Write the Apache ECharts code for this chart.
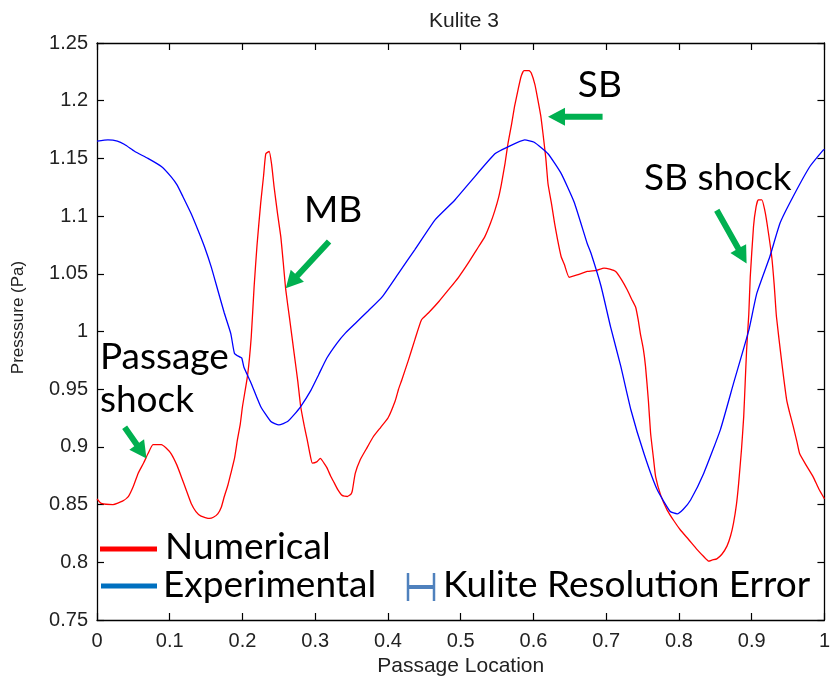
<!DOCTYPE html>
<html><head><meta charset="utf-8">
<script src="https://cdn.jsdelivr.net/npm/echarts@6/dist/echarts.min.js"></script>
<style>html,body{margin:0;padding:0;background:#fff}#c{width:833px;height:683px}</style>
</head><body><div id="c"></div>
<script>
// ---- data ----
const numX = [0.000,0.006,0.022,0.035,0.043,0.050,0.0565,0.064,0.070,0.077,0.0885,0.095,0.102,0.110,0.116,0.123,0.1295,0.136,0.143,0.1546,0.160,0.166,0.171,0.175,0.180,0.184,0.189,0.193,0.197,0.200,0.207,0.212,0.216,0.220,0.225,0.229,0.232,0.2367,0.240,0.2435,0.248,0.2527,0.256,0.2595,0.265,0.271,0.276,0.280,0.285,0.289,0.293,0.296,0.302,0.307,0.312,0.316,0.321,0.326,0.331,0.337,0.344,0.349,0.351,0.355,0.362,0.370,0.380,0.390,0.400,0.410,0.4145,0.419,0.428,0.437,0.446,0.4555,0.470,0.483,0.497,0.510,0.522,0.533,0.541,0.547,0.552,0.556,0.561,0.565,0.570,0.574,0.579,0.583,0.587,0.594,0.597,0.602,0.606,0.610,0.613,0.617,0.620,0.625,0.629,0.633,0.638,0.6425,0.649,0.660,0.674,0.687,0.697,0.705,0.713,0.721,0.729,0.735,0.7405,0.744,0.747,0.751,0.754,0.758,0.761,0.765,0.768,0.775,0.784,0.793,0.802,0.813,0.825,0.834,0.841,0.846,0.852,0.859,0.866,0.871,0.875,0.879,0.882,0.886,0.889,0.891,0.893,0.896,0.898,0.9025,0.906,0.909,0.914,0.918,0.921,0.9275,0.931,0.934,0.941,0.948,0.952,0.957,0.962,0.966,0.975,0.9845,0.992,1.000];
const numY = [0.855,0.851,0.850,0.853,0.857,0.866,0.877,0.886,0.894,0.902,0.902,0.899,0.894,0.884,0.874,0.862,0.851,0.844,0.840,0.838,0.839,0.842,0.848,0.857,0.867,0.877,0.890,0.906,0.920,0.935,0.962,0.995,1.039,1.075,1.111,1.135,1.154,1.156,1.145,1.125,1.103,1.082,1.060,1.036,1.010,0.981,0.957,0.935,0.918,0.906,0.893,0.886,0.887,0.890,0.886,0.882,0.875,0.869,0.863,0.858,0.857,0.859,0.862,0.877,0.889,0.898,0.909,0.917,0.925,0.940,0.950,0.958,0.975,0.993,1.010,1.016,1.026,1.036,1.047,1.059,1.071,1.082,1.094,1.105,1.116,1.128,1.146,1.163,1.180,1.195,1.210,1.221,1.226,1.226,1.224,1.214,1.201,1.187,1.172,1.150,1.128,1.110,1.094,1.080,1.065,1.058,1.047,1.049,1.052,1.053,1.055,1.054,1.052,1.045,1.036,1.028,1.021,1.010,0.998,0.985,0.970,0.940,0.912,0.890,0.874,0.858,0.845,0.836,0.828,0.820,0.811,0.805,0.801,0.802,0.803,0.807,0.814,0.823,0.834,0.850,0.868,0.898,0.926,0.955,0.984,1.015,1.047,1.091,1.108,1.114,1.114,1.105,1.094,1.065,1.040,1.013,0.975,0.941,0.930,0.918,0.905,0.894,0.884,0.874,0.864,0.855];
const expX = [0.000,0.015,0.028,0.038,0.052,0.070,0.0885,0.102,0.110,0.118,0.1295,0.140,0.148,0.157,0.166,0.175,0.184,0.189,0.196,0.199,0.202,0.212,0.225,0.239,0.250,0.262,0.271,0.280,0.294,0.305,0.316,0.330,0.342,0.355,0.373,0.392,0.414,0.437,0.465,0.492,0.515,0.547,0.565,0.588,0.601,0.620,0.638,0.656,0.674,0.679,0.693,0.706,0.720,0.734,0.752,0.770,0.788,0.7975,0.806,0.816,0.834,0.857,0.875,0.896,0.907,0.925,0.939,0.957,0.980,0.998,1.000];
const expY = [1.165,1.166,1.165,1.162,1.156,1.150,1.143,1.134,1.127,1.117,1.102,1.086,1.073,1.056,1.036,1.016,0.998,0.981,0.978,0.977,0.969,0.955,0.935,0.922,0.919,0.922,0.928,0.935,0.949,0.963,0.977,0.990,0.999,1.007,1.018,1.030,1.050,1.071,1.097,1.114,1.131,1.154,1.160,1.166,1.164,1.154,1.137,1.112,1.076,1.068,1.039,1.004,0.970,0.932,0.894,0.863,0.844,0.842,0.846,0.854,0.877,0.915,0.955,1.001,1.033,1.065,1.094,1.117,1.143,1.157,1.158];
const seriesNames = ['Numerical','Experimental'];
const errorLabel = 'Kulite Resolution Error';
const titleText = 'Kulite 3';
const xName = 'Passage Location';
const yName = 'Presssure (Pa)';
const noteTexts = ['Passage','shock','MB','SB','SB shock'];

// ---- annotation placement (data coordinates) ----
const notePos = [[0.004,0.978],[0.004,0.941],[0.2845,1.105],[0.661,1.2136],[0.752,1.133]];
const arrowPos = [
  [[0.038,0.917],[0.068,0.890]],
  [[0.319,1.078],[0.2595,1.0375]],
  [[0.695,1.186],[0.620,1.186]],
  [[0.852,1.105],[0.893,1.059]]
];

const chart = echarts.init(document.getElementById('c'));
const lblFont = {fontFamily:'Liberation Sans', fontSize:20, color:'#222'};
const aLine = {show:true, onZero:false, lineStyle:{color:'#000', width:1.3}};
const aTick = {show:true, inside:true, length:7, lineStyle:{color:'#000', width:1.2}};
chart.setOption({
  animation:false,
  backgroundColor:'#fff',
  title:{text:titleText, left:424, top:6, textStyle:{fontFamily:'Liberation Sans', fontSize:21, fontWeight:'normal', color:'#222'}},
  grid:{left:97, right:5, top:43, bottom:63, containLabel:false},
  xAxis:[
    {type:'value', min:0, max:1, interval:0.1, position:'bottom', name:xName, nameLocation:'middle', nameGap:36,
     nameTextStyle:{fontFamily:'Liberation Sans', fontSize:21, color:'#222'},
     axisLine:aLine, axisTick:aTick, axisLabel:Object.assign({margin:11}, lblFont), splitLine:{show:false}},
    {type:'value', min:0, max:1, interval:0.1, position:'top', axisLine:aLine, axisTick:aTick, axisLabel:{show:false}, splitLine:{show:false}}
  ],
  yAxis:[
    {type:'value', min:0.75, max:1.25, interval:0.05, position:'left', name:yName, nameLocation:'middle', nameGap:70,
     nameTextStyle:{fontFamily:'Liberation Sans', fontSize:17, color:'#222', padding:[0,0,0,28]},
     axisLine:aLine, axisTick:aTick, axisLabel:Object.assign({margin:9}, lblFont), splitLine:{show:false}},
    {type:'value', min:0.75, max:1.25, interval:0.05, position:'right', axisLine:aLine, axisTick:aTick, axisLabel:{show:false}, splitLine:{show:false}}
  ],
  series:[
    {name:seriesNames[0], type:'line', data:numX.map((x,i)=>[x,numY[i]]), showSymbol:false, smooth:0.15,
     lineStyle:{color:'#ff0000', width:1.3}, itemStyle:{color:'#ff0000'}},
    {name:seriesNames[1], type:'line', data:expX.map((x,i)=>[x,expY[i]]), showSymbol:false, smooth:0.15,
     lineStyle:{color:'#0000ff', width:1.3}, itemStyle:{color:'#0000ff'}}
  ]
});

function arrowPoly(p0, p1, shaftW, headW, headL){
  const dx=p1[0]-p0[0], dy=p1[1]-p0[1], L=Math.hypot(dx,dy);
  const ux=dx/L, uy=dy/L, nx=-uy, ny=ux;
  const nk=[p1[0]-ux*headL, p1[1]-uy*headL];
  return [
    [p0[0]+nx*shaftW/2, p0[1]+ny*shaftW/2],
    [nk[0]+nx*shaftW/2, nk[1]+ny*shaftW/2],
    [nk[0]+nx*headW/2, nk[1]+ny*headW/2],
    p1,
    [nk[0]-nx*headW/2, nk[1]-ny*headW/2],
    [nk[0]-nx*shaftW/2, nk[1]-ny*shaftW/2],
    [p0[0]-nx*shaftW/2, p0[1]-ny*shaftW/2]
  ];
}
const px = p => chart.convertToPixel({xAxisIndex:0, yAxisIndex:0}, p);
const noteFont = '37px Lato';
const g = [];
noteTexts.forEach((t,i)=>{
  const p = px(notePos[i]);
  g.push({type:'text', z:100, style:{text:t, x:p[0], y:p[1], font:noteFont, fill:'#000', align:'left', verticalAlign:'middle'}});
});
arrowPos.forEach(a=>{
  g.push({type:'polygon', z:100, shape:{points:arrowPoly(px(a[0]), px(a[1]), 6, 18, 17)}, style:{fill:'#00B050'}});
});
// legend
g.push({type:'line', z:100, shape:{x1:100,y1:549,x2:157,y2:549}, style:{stroke:'#ff0000', lineWidth:5}});
g.push({type:'text', z:100, style:{text:seriesNames[0], x:165, y:547, font:noteFont, fill:'#000', verticalAlign:'middle'}});
g.push({type:'line', z:100, shape:{x1:101,y1:586,x2:157,y2:586}, style:{stroke:'#0070C0', lineWidth:5}});
g.push({type:'text', z:100, style:{text:seriesNames[1], x:163, y:585, font:noteFont, fill:'#000', verticalAlign:'middle'}});
g.push({type:'line', z:100, shape:{x1:408,y1:587,x2:434,y2:587}, style:{stroke:'#4F81BD', lineWidth:4}});
g.push({type:'line', z:100, shape:{x1:408,y1:573,x2:408,y2:601}, style:{stroke:'#4F81BD', lineWidth:2.5}});
g.push({type:'line', z:100, shape:{x1:434,y1:573,x2:434,y2:601}, style:{stroke:'#4F81BD', lineWidth:2.5}});
g.push({type:'text', z:100, style:{text:errorLabel, x:443, y:585, font:noteFont, fill:'#000', verticalAlign:'middle'}});
chart.setOption({graphic:g});
</script>
</body></html>
